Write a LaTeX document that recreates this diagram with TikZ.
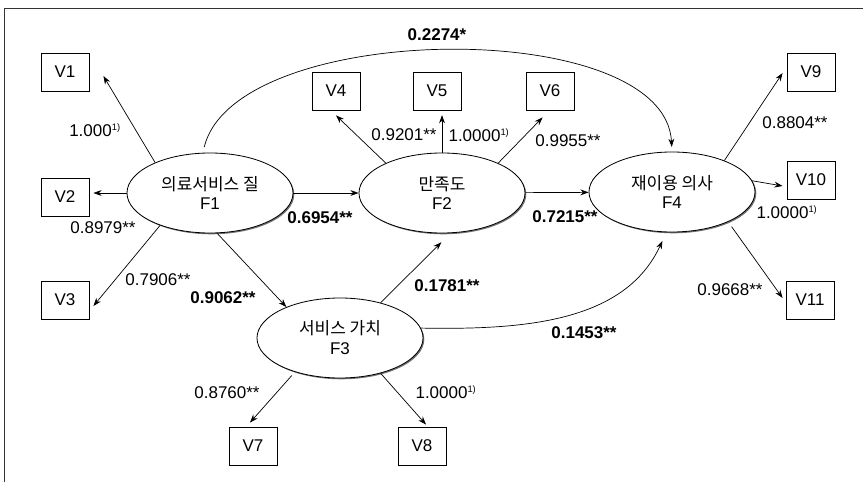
\documentclass[tikz,border=0pt]{standalone}
\usepackage{fontspec}
\setmainfont{Liberation Sans}
\newfontfamily\krfont{Noto Sans CJK KR}
\usetikzlibrary{arrows.meta,shapes.geometric,shadows}
\newcommand{\fnmark}{\textsuperscript{\fontsize{8}{8}\selectfont 1)}}
\tikzset{
  obsvar/.style={draw,rectangle,line width=.7pt,minimum width=1.44cm,minimum height=1.14cm,inner sep=0pt},
  latvar/.style={draw,ellipse,line width=.7pt,fill=white,minimum width=4.98cm,minimum height=2.4cm,
    inner sep=0pt,align=center,drop shadow={shadow xshift=1.1pt,shadow yshift=-1.1pt,opacity=1,fill=black!55}},
  arr/.style={line width=.6pt,-{Stealth[length=7pt,width=5pt]}},
  lab/.style={inner sep=0pt},
  blab/.style={inner sep=0pt,font=\fontsize{14.5}{17}\selectfont\bfseries}
}
\begin{document}
\begin{tikzpicture}[x=0.03cm,y=-0.03cm,font=\fontsize{14.5}{17}\selectfont]
  \useasboundingbox (0,0) rectangle (863,482);
  \draw[black!80,line width=.8pt] (4,482) -- (4,8) -- (863,8);
  \node[obsvar] (v1) at (65,72) {V1};
  \node[obsvar] (v2) at (65,197) {V2};
  \node[obsvar] (v3) at (65,300) {V3};
  \node[obsvar] (v4) at (336,91) {V4};
  \node[obsvar] (v5) at (437,91) {V5};
  \node[obsvar] (v6) at (550,91) {V6};
  \node[obsvar] (v7) at (253,446) {V7};
  \node[obsvar] (v8) at (422,446) {V8};
  \node[obsvar] (v9) at (811,72) {V9};
  \node[obsvar] (v10) at (811,180) {V10};
  \node[obsvar] (v11) at (810,300) {V11};
  \node[latvar] (f1) at (210,193) {{\krfont 의료서비스 질}\\F1};
  \node[latvar] (f2) at (442,193) {{\krfont 만족도}\\F2};
  \node[latvar] (f3) at (340,338) {{\krfont 서비스 가치}\\F3};
  \node[latvar] (f4) at (672,192) {{\krfont 재이용 의사}\\F4};
  \draw[arr] (f1.151) -- ([shift={(14,4)}]v1.east);
  \draw[arr] (f1.west) -- ([shift={(4,-4)}]v2.east);
  \draw[arr] (f1.213) -- ([shift={(4,6)}]v3.east);
  \draw[arr] (f1.-80) -- (f3.150);
  \draw[arr] (f1) -- (f2);
  \draw[arr] (f2.152) -- ([shift={(0,5)}]v4.south);
  \draw[arr,shorten >=4pt] (f2.north) -- (f2.north |- v5.south);
  \draw[arr] (f2.28) -- ([shift={(17,7)}]v6.south west);
  \draw[arr] (f2) -- (f4);
  \draw[arr,shorten >=11pt] (f3.41) -- (f2.-78);
  \draw[arr,shorten <=5pt,shorten >=4pt] (f1.100) .. controls (235,20) and (665,15) .. (f4.north);
  \draw[arr,shorten >=8pt] (f3.7) .. controls (525,330) and (625,322) .. (f4.-98);
  \draw[arr] (f4.31) -- ([shift={(-4,1)}]v9.west);
  \draw[arr] (f4.8) -- ([shift={(-4,6)}]v10.west);
  \draw[arr,shorten <=5pt] (f4.-28) -- ([shift={(-3,-2)}]v11.west);
  \draw[arr,shorten <=4pt] (f3.217) -- ([shift={(-3,-4)}]v7.north);
  \draw[arr] (f3.-41) -- ([shift={(4,-2)}]v8.north);
  \node[lab] (ld1) at (95,130) {1.000\fnmark};
  \node[lab] (ld2) at (103,228) {0.8979**};
  \node[lab] (ld3) at (158,280) {0.7906**};
  \node[lab] (ld4) at (404,135) {0.9201**};
  \node[lab] (ld5) at (479,135) {1.0000\fnmark};
  \node[lab] (ld6) at (568,141) {0.9955**};
  \node[lab] (ld7) at (227,393) {0.8760**};
  \node[lab] (ld8) at (446,392) {1.0000\fnmark};
  \node[lab] (ld9) at (795,123) {0.8804**};
  \node[lab] (ld10) at (787,212) {1.0000\fnmark};
  \node[lab] (ld11) at (730,290) {0.9668**};
  \node[blab] (pc14) at (437,35) {0.2274*};
  \node[blab] (pc12) at (320,218) {0.6954**};
  \node[blab] (pc13) at (223,298) {0.9062**};
  \node[blab] (pc24) at (565,217) {0.7215**};
  \node[blab] (pc32) at (447,286) {0.1781**};
  \node[blab] (pc34) at (584,333) {0.1453**};
\end{tikzpicture}
\end{document}
